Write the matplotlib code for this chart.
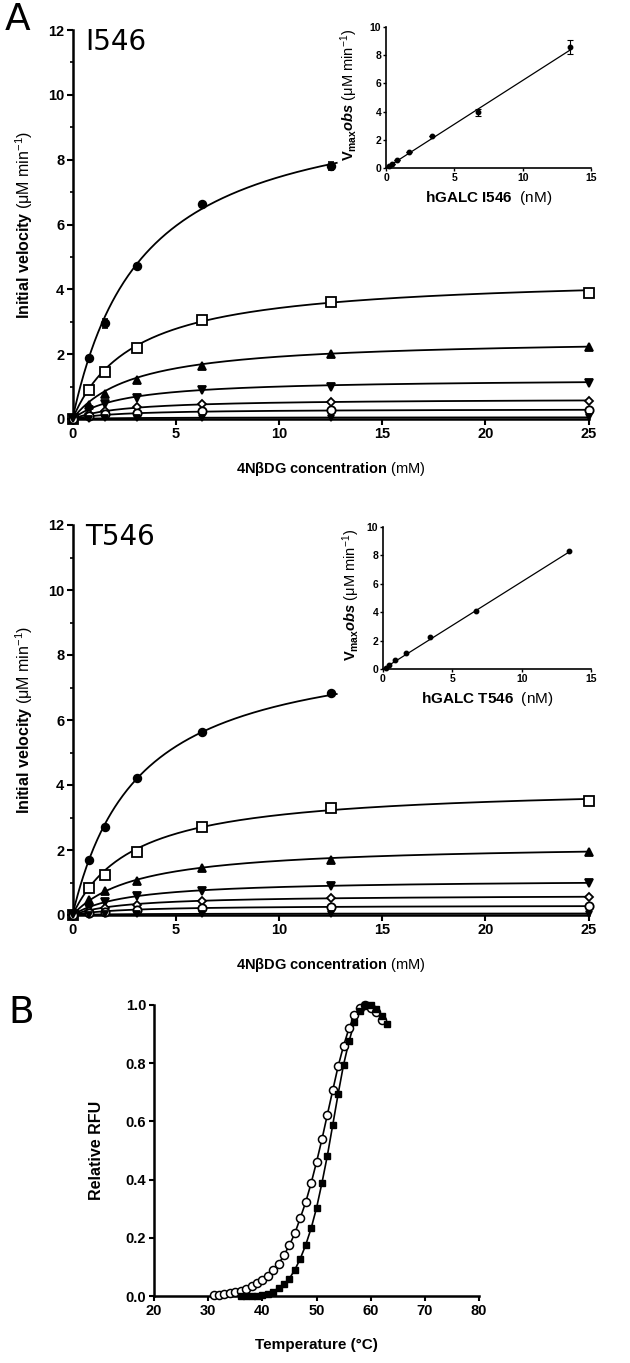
import numpy as np
import matplotlib
matplotlib.use("Agg")
import matplotlib.pyplot as plt

plt.rcParams['font.family'] = ['Liberation Sans', 'DejaVu Sans']
plt.rcParams['mathtext.fontset'] = 'custom'
plt.rcParams['mathtext.rm'] = 'Liberation Sans'
plt.rcParams['mathtext.bf'] = 'Liberation Sans:bold'
plt.rcParams['mathtext.it'] = 'Liberation Sans:italic'
plt.rcParams['mathtext.bfit'] = 'Liberation Sans:bold:italic'

# ---------------- data ----------------
substrate_mM = [0, 0.78, 1.56, 3.125, 6.25, 12.5, 25]

# I546 series (initial velocity, uM/min)
i546_circle = [0, 1.88, 2.95, 4.73, 6.63, 7.80]          # up to 12.5 mM
i546_circle_err = [0, 0.05, 0.15, 0.05, 0.05, 0.12]
i546_square = [0, 0.90, 1.46, 2.20, 3.05, 3.62, 3.88]
i546_tri_up = [0, 0.42, 0.77, 1.20, 1.64, 2.00, 2.23]
i546_tri_dn = [0, 0.28, 0.45, 0.66, 0.90, 1.00, 1.12]
i546_diamond = [0, 0.15, 0.25, 0.36, 0.46, 0.52, 0.57]
i546_ocircle = [0, 0.08, 0.14, 0.20, 0.25, 0.27, 0.28]
i546_bottom = [0, 0.01, 0.02, 0.03, 0.04, 0.04, 0.05]
# fitted Michaelis-Menten parameters (Vmax, Km)
i546_vmax = [10.0, 4.45, 2.50, 1.25, 0.63, 0.31, 0.055]
i546_km = [3.4, 3.0, 3.0, 2.5, 2.5, 2.3, 2.5]

# T546 series
t546_circle = [0, 1.69, 2.72, 4.23, 5.62, 6.82]
t546_square = [0, 0.82, 1.23, 1.95, 2.72, 3.30, 3.52]
t546_tri_up = [0, 0.45, 0.75, 1.06, 1.44, 1.69, 1.95]
t546_tri_dn = [0, 0.22, 0.39, 0.57, 0.75, 0.89, 0.99]
t546_diamond = [0, 0.13, 0.22, 0.32, 0.43, 0.53, 0.56]
t546_ocircle = [0, 0.06, 0.10, 0.16, 0.21, 0.25, 0.27]
t546_bottom = [0, 0.01, 0.02, 0.03, 0.035, 0.04, 0.045]
t546_vmax = [8.5, 4.0, 2.2, 1.1, 0.62, 0.30, 0.05]
t546_km = [3.2, 3.0, 3.2, 2.8, 2.6, 2.5, 2.5]

# insets: Vmax obs vs enzyme concentration
enzyme_nM = [0.21, 0.42, 0.84, 1.68, 3.36, 6.72, 13.44]
i546_vmaxobs = [0.12, 0.30, 0.60, 1.15, 2.30, 3.95, 8.55]
i546_vmaxobs_err = [0, 0, 0, 0, 0, 0.25, 0.50]
i546_slope = 0.621
t546_vmaxobs = [0.10, 0.28, 0.63, 1.12, 2.22, 4.07, 8.30]
t546_slope = 0.614

# panel B: thermal melt
temp_circle = list(range(31, 63))
rfu_circle = [0.003, 0.004, 0.006, 0.009, 0.013, 0.018, 0.025, 0.033, 0.043,
              0.055, 0.070, 0.088, 0.110, 0.140, 0.175, 0.215, 0.268, 0.322,
              0.387, 0.460, 0.538, 0.623, 0.707, 0.790, 0.860, 0.920, 0.965,
              0.990, 1.000, 0.990, 0.975, 0.950]
temp_square = list(range(36, 64))
rfu_square = [0.0, 0.0, 0.0, 0.001, 0.003, 0.008, 0.015, 0.028, 0.042, 0.060,
              0.090, 0.128, 0.175, 0.232, 0.302, 0.388, 0.482, 0.588, 0.695,
              0.795, 0.875, 0.940, 0.980, 1.000, 1.000, 0.985, 0.962, 0.935]

# ---------------- figure ----------------
W, H = 630, 1363
fig = plt.figure(figsize=(W / 100, H / 100), dpi=100)


def px_axes(x0, x1, ytop, ybot):
    return fig.add_axes([x0 / W, 1 - ybot / H, (x1 - x0) / W, (ybot - ytop) / H])


def style_main(ax):
    for s in ['top', 'right']:
        ax.spines[s].set_visible(False)
    for s in ['left', 'bottom']:
        ax.spines[s].set_linewidth(1.8)
    ax.tick_params(which='major', direction='out', length=4.5, width=1.5,
                   labelsize=10.5, pad=1.5)
    ax.tick_params(which='minor', direction='out', length=2.5, width=1.2)
    for lab in ax.get_xticklabels() + ax.get_yticklabels():
        lab.set_fontweight('bold')


markers = [('o', 'k'), ('s', 'w'), ('^', 'k'), ('v', 'k'), ('D', 'w'), ('o', 'w'), ('v', 'k')]
msizes = [5.5, 6.5, 5.5, 5.5, 4.5, 6.0, 4.5]


def main_panel(ax, series, vmax, km, name, circle_err=None):
    ax.set_xlim(0, 25)
    ax.set_ylim(0, 12)
    ax.set_xticks([0, 5, 10, 15, 20, 25])
    ax.set_yticks([0, 2, 4, 6, 8, 10, 12])
    ax.set_yticks([1, 3, 5, 7, 9, 11], minor=True)
    for i, y in enumerate(series):
        xs = substrate_mM[:len(y)]
        xmax = 12.8 if len(y) < len(substrate_mM) else 25
        xf = np.linspace(0, xmax, 300)
        ax.plot(xf, vmax[i] * xf / (km[i] + xf), color='k', lw=1.3, clip_on=False, zorder=2)
        m, fc = markers[i]
        if i == 0 and circle_err is not None:
            ax.errorbar(xs, y, yerr=circle_err, fmt='none', ecolor='k', elinewidth=1.2,
                        capsize=2.5, capthick=1.2, clip_on=False, zorder=3)
        ax.plot(xs, y, linestyle='none', marker=m, mfc=fc, mec='k', mew=1.3,
                ms=msizes[i], clip_on=False, zorder=4)
    style_main(ax)
    ax.set_xlabel(r'$\mathbf{4N\beta DG\ concentration}$ (mM)', fontsize=10.5)
    ax.xaxis.set_label_coords(0.5, -0.105)
    ax.set_ylabel(r'$\mathbf{Initial\ velocity}$ (μM min$^{-1}$)', fontsize=11.5)
    ax.yaxis.set_label_coords(-0.072, 0.5)
    ax.text(0.025, 1.005, name, transform=ax.transAxes, fontsize=20,
            family='DejaVu Sans', va='top', ha='left')


def inset_panel(ax, yvals, slope, name, err=None, ylab_x=-0.12):
    ax.set_xlim(0, 15)
    ax.set_ylim(0, 10)
    ax.set_xticks([0, 5, 10, 15])
    ax.set_yticks([0, 2, 4, 6, 8, 10])
    xf = np.array([0, enzyme_nM[-1]])
    ax.plot(xf, slope * xf, color='k', lw=0.9, zorder=2)
    if err is not None:
        ax.errorbar(enzyme_nM, yvals, yerr=err, fmt='none', ecolor='k', elinewidth=0.8,
                    capsize=2.5, capthick=0.8, zorder=3)
    ax.plot(enzyme_nM, yvals, 'o', color='k', ms=3.2, clip_on=False, zorder=4)
    for s in ['top', 'right']:
        ax.spines[s].set_visible(False)
    for s in ['left', 'bottom']:
        ax.spines[s].set_linewidth(1.2)
    ax.tick_params(direction='out', length=2.5, width=1.0, labelsize=7.5, pad=1)
    for lab in ax.get_xticklabels() + ax.get_yticklabels():
        lab.set_fontweight('bold')
    ax.set_xlabel(r'$\mathbf{hGALC\ ' + name + r'}$  (nM)', fontsize=11)
    ax.xaxis.set_label_coords(0.5, -0.15)
    ax.set_ylabel(r'$\mathbf{V}_{\mathbf{max}}\mathbfit{obs}$ (μM min$^{-1}$)', fontsize=10.5)
    ax.yaxis.set_label_coords(ylab_x, 0.52)


# top main panel (I546)
ax1 = px_axes(72.5, 588.5, 30, 419)
main_panel(ax1,
           [i546_circle, i546_square, i546_tri_up, i546_tri_dn, i546_diamond,
            i546_ocircle, i546_bottom],
           i546_vmax, i546_km, 'I546', circle_err=i546_circle_err)
ax1i = px_axes(386, 591, 27, 168)
inset_panel(ax1i, i546_vmaxobs, i546_slope, 'I546', err=i546_vmaxobs_err, ylab_x=-0.125)

# second main panel (T546)
ax2 = px_axes(72.5, 588.5, 525, 915)
main_panel(ax2,
           [t546_circle, t546_square, t546_tri_up, t546_tri_dn, t546_diamond,
            t546_ocircle, t546_bottom],
           t546_vmax, t546_km, 'T546')
ax2i = px_axes(383, 591, 527, 669)
inset_panel(ax2i, t546_vmaxobs, t546_slope, 'T546', ylab_x=-0.10)

# panel B
axb = px_axes(154, 479, 1005, 1296)
axb.set_xlim(20, 80)
axb.set_ylim(0, 1.0)
axb.set_xticks([20, 30, 40, 50, 60, 70, 80])
axb.set_yticks([0, 0.2, 0.4, 0.6, 0.8, 1.0])
axb.set_yticklabels(['0.0', '0.2', '0.4', '0.6', '0.8', '1.0'])
tc = [t for t in temp_circle if t <= 60]
axb.plot(tc, rfu_circle[:len(tc)], color='k', lw=1.2, zorder=2)
ts = [t for t in temp_square if t <= 60]
axb.plot(ts, rfu_square[:len(ts)], color='k', lw=1.2, zorder=2)
axb.plot(temp_circle, rfu_circle, 'o', mfc='w', mec='k', mew=1.1, ms=5.8,
         clip_on=False, zorder=3)
axb.plot(temp_square, rfu_square, 's', mfc='k', mec='k', ms=4.8,
         clip_on=False, zorder=4)
for s in ['top', 'right']:
    axb.spines[s].set_visible(False)
for s in ['left', 'bottom']:
    axb.spines[s].set_linewidth(1.8)
axb.tick_params(direction='out', length=3.5, width=1.5, labelsize=10.5, pad=2)
for lab in axb.get_xticklabels() + axb.get_yticklabels():
    lab.set_fontweight('bold')
axb.set_xlabel('Temperature (°C)', fontsize=11, fontweight='bold')
axb.xaxis.set_label_coords(0.5, -0.145)
axb.set_ylabel('Relative RFU', fontsize=11.5, fontweight='bold')
axb.yaxis.set_label_coords(-0.155, 0.5)

# panel letters
fig.text(5 / W, 1 - 2 / H, 'A', fontsize=27, family='DejaVu Sans', va='top', ha='left')
fig.text(8 / W, 1 - 995 / H, 'B', fontsize=27, family='DejaVu Sans', va='top', ha='left')

fig.savefig('out.png', dpi=100)
